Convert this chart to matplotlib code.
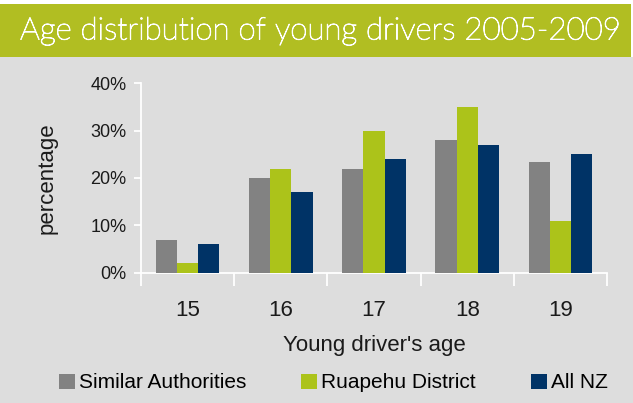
import matplotlib
matplotlib.use("Agg")
import matplotlib.pyplot as plt
import matplotlib.patheffects as pe
import numpy as np
from matplotlib.patches import Rectangle, Patch

ages = ["15", "16", "17", "18", "19"]
series_names = ["Similar Authorities", "Ruapehu District", "All NZ"]
similar = [7, 20, 22, 28, 23.3]
ruapehu = [2, 22, 30, 35, 11]
all_nz = [6, 17, 24, 27, 25]
yticks = [0, 10, 20, 30, 40]
ytick_labels = ["0%", "10%", "20%", "30%", "40%"]
title = "Age distribution of young drivers 2005-2009"
xlabel = "Young driver's age"
ylabel = "percentage"

colors = ["#828282", "#ACC31A", "#003366"]
banner_color = "#B1BE22"
bg = "#DDDDDD"

W, H = 633, 403
fig = plt.figure(figsize=(W / 100, H / 100), dpi=100, facecolor="white")

# background and banner
fig.patches.append(Rectangle((0, 0), 1, 1 - 57 / H, transform=fig.transFigure,
                             facecolor=bg, edgecolor="none", zorder=-10))
fig.patches.append(Rectangle((0, 1 - 57 / H), 631 / W, 53 / H, transform=fig.transFigure,
                             facecolor=banner_color, edgecolor="none", zorder=-10))
fig.text(20 / W, 1 - 31 / H, title, color="white", fontsize=22.5,
         family="Lato", weight="light", ha="left", va="center",
         path_effects=[pe.withStroke(linewidth=0.7, foreground="white")])

left, right = 141, 607
bottom, top = 272.7, 83.3
ax = fig.add_axes([left / W, 1 - bottom / H, (right - left) / W, (bottom - top) / H])
ax.set_facecolor(bg)

x = np.arange(len(ages))
w = 0.228
for i, (vals, name) in enumerate(zip([similar, ruapehu, all_nz], series_names)):
    ax.bar(x + (i - 1) * w, vals, width=w, color=colors[i], label=name, zorder=3)

ax.set_xlim(-0.5, len(ages) - 0.5)
ax.set_ylim(0, 40)
ax.set_yticks(yticks)
ax.set_yticklabels(ytick_labels, family="Liberation Sans", fontsize=13, color="#1a1a1a")
ax.tick_params(axis="y", length=5, width=1.3, color="white", pad=5.5)

ax.set_xticks(np.arange(-0.5, len(ages), 1.0))
ax.set_xticklabels([])
ax.tick_params(axis="x", which="major", length=9, width=1.3, color="white")
ax.set_xticks(x, minor=True)
ax.set_xticklabels(ages, minor=True, family="Liberation Sans", fontsize=16, color="#1a1a1a")
ax.tick_params(axis="x", which="minor", length=0, pad=20)

for s in ["top", "right"]:
    ax.spines[s].set_visible(False)
for s in ["left", "bottom"]:
    ax.spines[s].set_color("white")
    ax.spines[s].set_linewidth(1.3)

fig.text(374 / W, 1 - 345 / H, xlabel, family="Liberation Sans", fontsize=16,
         ha="center", va="center", color="#1a1a1a")
fig.text(47 / W, 1 - 178 / H, ylabel, family="Liberation Sans", fontsize=16,
         ha="center", va="center", rotation=90, color="#1a1a1a")

handles = [Patch(facecolor=c, edgecolor="none") for c in colors]
fig.legend(handles, series_names, loc="center left", bbox_to_anchor=(59 / W, 1 - 383 / H),
           ncol=3, frameon=False, prop={"family": "Liberation Sans", "size": 15},
           handlelength=0.75, handleheight=0.75, handletextpad=0.2,
           columnspacing=2.65, borderpad=0, borderaxespad=0)

fig.savefig("out.png", dpi=100, facecolor=fig.get_facecolor())
